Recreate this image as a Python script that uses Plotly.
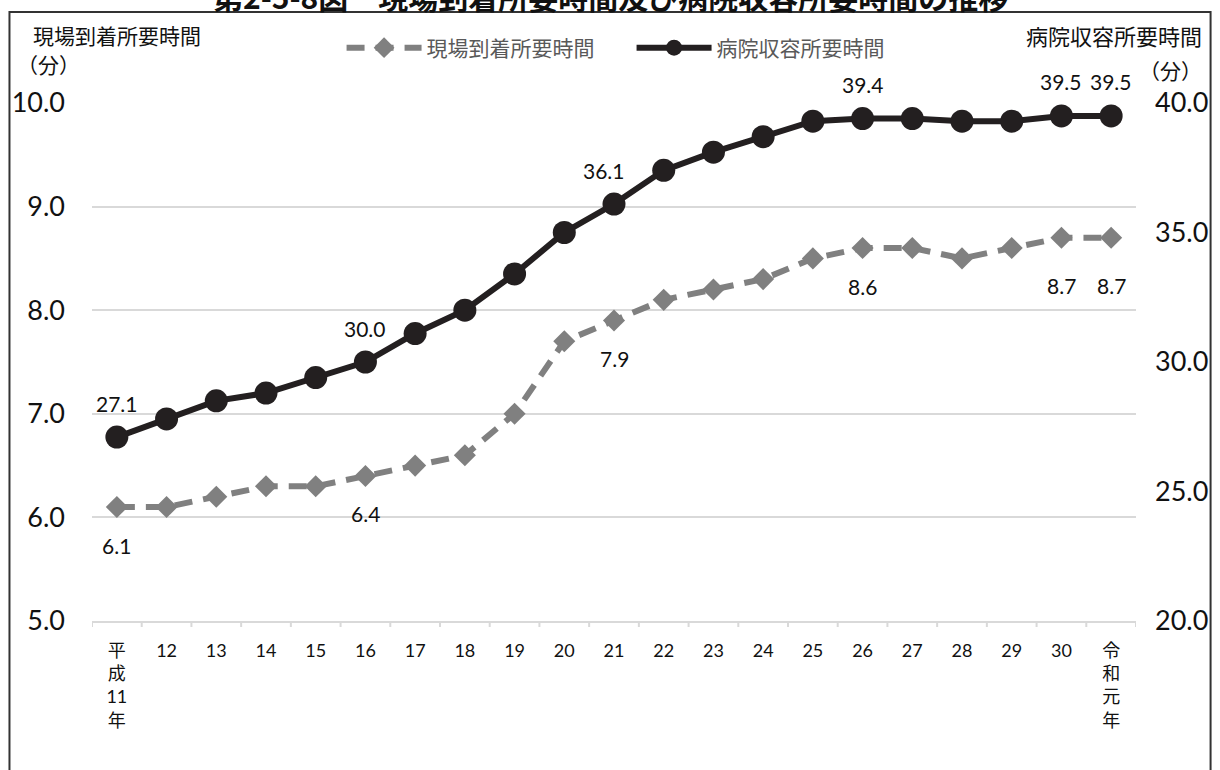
import plotly.graph_objects as go

# ---- data ----
years = ["平<br>成<br>11<br>年", "12", "13", "14", "15", "16", "17", "18", "19", "20",
         "21", "22", "23", "24", "25", "26", "27", "28", "29", "30", "令<br>和<br>元<br>年"]
arrival = [6.1, 6.1, 6.2, 6.3, 6.3, 6.4, 6.5, 6.6, 7.0, 7.7,
           7.9, 8.1, 8.2, 8.3, 8.5, 8.6, 8.6, 8.5, 8.6, 8.7, 8.7]
hospital = [27.1, 27.8, 28.5, 28.8, 29.4, 30.0, 31.1, 32.0, 33.4, 35.0,
            36.1, 37.4, 38.1, 38.7, 39.3, 39.4, 39.4, 39.3, 39.3, 39.5, 39.5]
arrival_label_idx = [0, 5, 10, 15, 19, 20]
hospital_label_idx = [0, 5, 10, 15, 19, 20]
name_arrival = "現場到着所要時間"
name_hospital = "病院収容所要時間"
title_text = "第2-5-8図　現場到着所要時間及び病院収容所要時間の推移"

FONT = "Lato, 'Noto Sans CJK JP', sans-serif"
JFONT = "'Noto Sans CJK JP', sans-serif"
GRAY = "#808080"
BLACK = "#231f20"

fig = go.Figure()
fig.add_trace(go.Scatter(
    x=list(range(len(years))), y=arrival, name=name_arrival, mode="lines+markers",
    line=dict(color=GRAY, width=6, dash="18px,11px"),
    marker=dict(symbol="diamond", size=17, color=GRAY),
))
fig.add_trace(go.Scatter(
    x=list(range(len(years))), y=hospital, name=name_hospital, mode="lines+markers", yaxis="y2",
    line=dict(color=BLACK, width=6),
    marker=dict(symbol="circle", size=23, color=BLACK),
))

anns = []
for i in arrival_label_idx:
    anns.append(dict(x=i, y=arrival[i], xref="x", yref="y", text=f"{arrival[i]:.1f}",
                     showarrow=False, yshift=-(48 if i >= 19 else 38),
                     font=dict(family=FONT, size=21, color="#111")))
for i in hospital_label_idx:
    anns.append(dict(x=i, y=hospital[i], xref="x", yref="y2", text=f"{hospital[i]:.1f}",
                     showarrow=False, yshift=34, xshift=(-10 if i == 10 else 0),
                     font=dict(family=FONT, size=21, color="#111")))

# axis titles (pixel positions converted below)
anns.append(dict(x=30, y=35, xref="paper", yref="paper", text=name_arrival, showarrow=False,
                 xanchor="left", yanchor="middle", font=dict(family=JFONT, size=21, color="#111")))
anns.append(dict(x=14, y=64, xref="paper", yref="paper", text="（分）", showarrow=False,
                 xanchor="left", yanchor="middle", font=dict(family=JFONT, size=21, color="#111")))
anns.append(dict(x=1209, y=35, xref="paper", yref="paper", text=name_hospital, showarrow=False,
                 xanchor="right", yanchor="middle", font=dict(family=JFONT, size=22, color="#111")))
anns.append(dict(x=1209, y=70, xref="paper", yref="paper", text="（分）", showarrow=False,
                 xanchor="right", yanchor="middle", font=dict(family=JFONT, size=21, color="#111")))
anns.append(dict(x=612, y=-4, xref="paper", yref="paper", text="<b>" + title_text + "</b>", showarrow=False,
                 xanchor="center", yanchor="middle", font=dict(family=JFONT, size=30, color="#111")))

L, R, T, B = 91, 1141, 103, 621
for a in anns:
    if a["xref"] == "paper":
        a["x"] = (a["x"] - L) / (R - L)
        a["y"] = (B - a["y"]) / (B - T)

fig.update_layout(
    width=1220, height=770,
    margin=dict(l=L, r=1220 - R, t=T, b=770 - B),
    paper_bgcolor="white", plot_bgcolor="white",
    showlegend=True,
    legend=dict(orientation="h", x=(342 - L) / (R - L), y=(B - 48) / (B - T),
                xanchor="left", yanchor="middle",
                font=dict(family=JFONT, size=21, color="#595959"),
                itemwidth=75, entrywidth=200, entrywidthmode="pixels",
                tracegroupgap=0, bgcolor="rgba(0,0,0,0)"),
    annotations=anns,
    xaxis=dict(range=[-0.5, 20.5], tickmode="array", tickvals=list(range(len(years))), ticktext=years,
               showline=True, linecolor="#d9d9d9", linewidth=2,
               ticks="", showgrid=False, zeroline=False, ticklabelstandoff=12,
               tickfont=dict(family=FONT, size=18, color="#111"), fixedrange=True),
    yaxis=dict(range=[5, 10], dtick=1, tickformat=".1f", showgrid=True, gridcolor="#d9d9d9",
               gridwidth=2, zeroline=False, showline=False, ticks="",
               tickfont=dict(family=FONT, size=27, color="#111"), ticklabelstandoff=26),
    yaxis2=dict(range=[20, 40], dtick=5, tickformat=".1f", overlaying="y", side="right",
                showgrid=False, zeroline=False, showline=False, ticks="",
                tickfont=dict(family=FONT, size=27, color="#111"), ticklabelstandoff=18),
    shapes=[dict(type="rect", xref="paper", yref="paper",
                 x0=(8 - L) / (R - L), x1=(1216 - L) / (R - L),
                 y0=(B - 800) / (B - T), y1=(B - 12) / (B - T),
                 line=dict(color="#333", width=2), layer="below")]
           + [dict(type="line", xref="x", yref="paper", x0=k - 0.5, x1=k - 0.5, y0=0, y1=-6 / (B - T),
                   line=dict(color="#d9d9d9", width=2)) for k in range(len(years) + 1)],
)

fig.write_html("out.html", config={"displayModeBar": False},
               post_script="document.body.style.margin='0';document.body.style.overflow='hidden';")
